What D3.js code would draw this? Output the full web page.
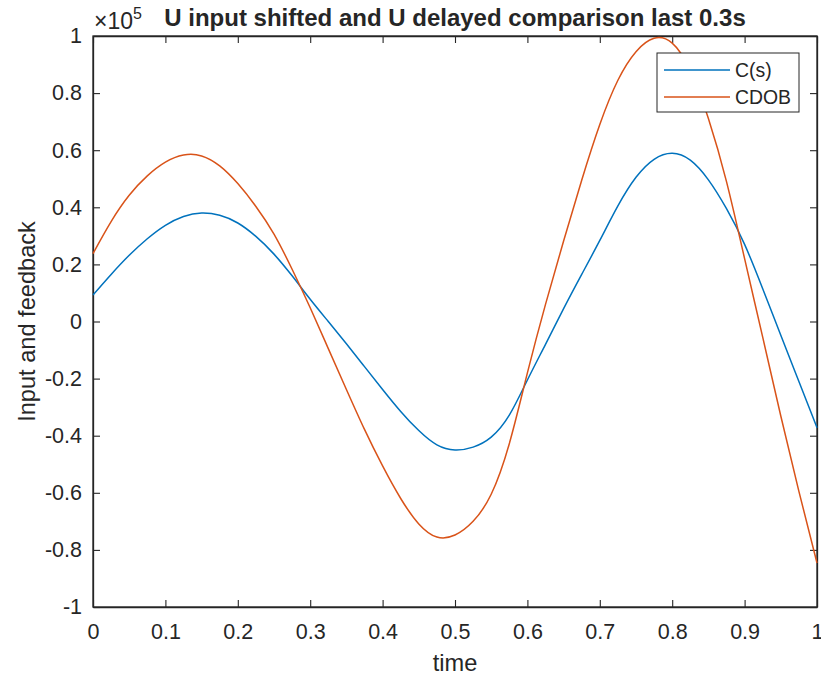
<!DOCTYPE html>
<html>
<head>
  <meta charset="utf-8">
  <script src="https://d3js.org/d3.v7.min.js"></script>
  <style>
    body { margin: 0; background: #fff; }
    text { font-family: "Liberation Sans", Arial, sans-serif; fill: #262626; }
  </style>
</head>
<body>
<script type="text/javascript">
  // sample times (s) and values, in units of 1e5
  var time = [0, 0.025, 0.05, 0.075, 0.1, 0.125, 0.15, 0.175, 0.2, 0.225,
              0.25, 0.275, 0.3, 0.325, 0.35, 0.375, 0.4, 0.425, 0.45, 0.475,
              0.5, 0.525, 0.55, 0.575, 0.6, 0.625, 0.65, 0.675, 0.7, 0.725,
              0.75, 0.775, 0.8, 0.825, 0.85, 0.875, 0.9, 0.925, 0.95, 0.975, 1.0];

  var csValues = [0.093, 0.165, 0.232, 0.290, 0.337, 0.368, 0.380, 0.372, 0.345, 0.298,
                  0.236, 0.160, 0.078, 0.000, -0.078, -0.158, -0.238, -0.315, -0.382, -0.432,
                  -0.450, -0.440, -0.405, -0.328, -0.205, -0.080, 0.045, 0.165, 0.284, 0.405,
                  0.505, 0.568, 0.589, 0.565, 0.496, 0.395, 0.270, 0.115, -0.048, -0.210, -0.372];

  var cdobValues = [0.238, 0.350, 0.442, 0.510, 0.558, 0.583, 0.580, 0.545, 0.483, 0.403,
                    0.306, 0.183, 0.048, -0.095, -0.238, -0.378, -0.506, -0.620, -0.709, -0.755,
                    -0.748, -0.700, -0.605, -0.428, -0.180, 0.060, 0.282, 0.495, 0.690, 0.845,
                    0.945, 0.992, 0.975, 0.880, 0.711, 0.490, 0.220, -0.055, -0.331, -0.595, -0.846];

  var seriesNames = ["C(s)", "CDOB"];
  var seriesColors = ["#0072BD", "#D95319"];
  var xTicks = [0, 0.1, 0.2, 0.3, 0.4, 0.5, 0.6, 0.7, 0.8, 0.9, 1];
  var yTicks = [-1, -0.8, -0.6, -0.4, -0.2, 0, 0.2, 0.4, 0.6, 0.8, 1];

  function draw() {
    "use strict";
    var width = 821, height = 677;
    var left = 93, top = 36, right = 817, bottom = 607;

    var svg = d3.select("body").append("svg")
        .attr("width", width)
        .attr("height", height);

    var x = d3.scaleLinear().domain([0, 1]).range([left, right]);
    var y = d3.scaleLinear().domain([-1, 1]).range([bottom, top]);

    var fmt = function (d) { return String(+d.toFixed(1)); };

    // axes, ticks pointing inwards like matlab
    var axisColor = "#262626";
    var tick = 7;
    var xb = svg.append("g").attr("transform", "translate(0," + bottom + ")")
        .call(d3.axisBottom(x).tickValues(xTicks).tickSizeInner(-tick).tickSizeOuter(0).tickPadding(tick + 10).tickFormat(fmt));
    var xt = svg.append("g").attr("transform", "translate(0," + top + ")")
        .call(d3.axisTop(x).tickValues(xTicks).tickSizeInner(-tick).tickSizeOuter(0).tickFormat(""));
    var yl = svg.append("g").attr("transform", "translate(" + left + ",0)")
        .call(d3.axisLeft(y).tickValues(yTicks).tickSizeInner(-tick).tickSizeOuter(0).tickPadding(tick + 4).tickFormat(fmt));
    var yr = svg.append("g").attr("transform", "translate(" + right + ",0)")
        .call(d3.axisRight(y).tickValues(yTicks).tickSizeInner(-tick).tickSizeOuter(0).tickFormat(""));

    [xb, xt, yl, yr].forEach(function (g) {
      g.select(".domain").attr("stroke", axisColor).attr("stroke-width", 1.3);
      g.selectAll(".tick line").attr("stroke", axisColor).attr("stroke-width", 1.1);
      g.selectAll(".tick text").style("font-size", "21.5px").attr("fill", axisColor);
    });
    // box round the plot area
    svg.append("rect")
        .attr("x", left).attr("y", top)
        .attr("width", right - left).attr("height", bottom - top)
        .attr("fill", "none").attr("stroke", axisColor).attr("stroke-width", 1.3);

    // lines
    var line = d3.line()
        .x(function (d) { return x(d[0]); })
        .y(function (d) { return y(d[1]); })
        .curve(d3.curveNatural);

    var series = [d3.zip(time, csValues), d3.zip(time, cdobValues)];
    series.forEach(function (s, i) {
      svg.append("path")
          .datum(s)
          .attr("d", line)
          .attr("fill", "none")
          .attr("stroke", seriesColors[i])
          .attr("stroke-width", 1.5);
    });

    // exponent label
    var ex = svg.append("text").attr("x", 94).attr("y", 29).style("font-size", "23px");
    ex.append("tspan").text("\u00d710");
    ex.append("tspan").attr("dy", -10).style("font-size", "16px").text("5");

    // title
    svg.append("text")
        .attr("x", (left + right) / 2).attr("y", 26)
        .attr("text-anchor", "middle")
        .style("font-size", "24px").style("font-weight", "bold")
        .attr("fill", "#000")
        .text("U input shifted and U delayed comparison last 0.3s");

    // axis labels
    svg.append("text")
        .attr("x", (left + right) / 2).attr("y", 671)
        .attr("text-anchor", "middle")
        .style("font-size", "23.6px")
        .text("time");
    svg.append("text")
        .attr("transform", "translate(35," + (top + bottom) / 2 + ") rotate(-90)")
        .attr("text-anchor", "middle")
        .style("font-size", "23.6px")
        .text("Input and feedback");

    // legend
    var legend = svg.append("g");
    legend.append("rect")
        .attr("x", 657).attr("y", 53).attr("width", 142).attr("height", 59)
        .attr("fill", "#fff").attr("stroke", axisColor).attr("stroke-width", 1);
    seriesNames.forEach(function (name, i) {
      var ly = 70 + i * 27;
      legend.append("line")
          .attr("x1", 664).attr("x2", 730).attr("y1", ly).attr("y2", ly)
          .attr("stroke", seriesColors[i]).attr("stroke-width", 1.5);
      legend.append("text")
          .attr("x", 735).attr("y", ly + 7)
          .style("font-size", "19.4px").attr("fill", "#000")
          .text(name);
    });
  }

  draw();
</script>
</body>
</html>
